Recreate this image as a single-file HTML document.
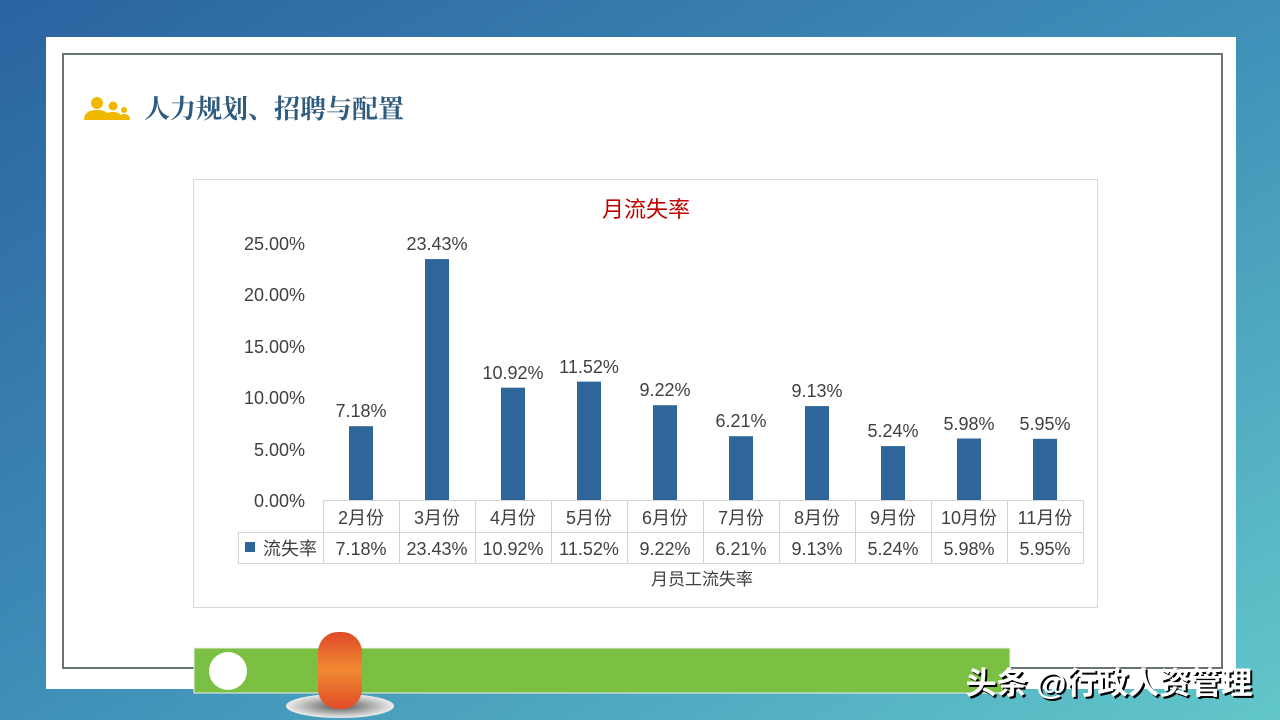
<!DOCTYPE html>
<html><head><meta charset="utf-8"><style>
body{margin:0;width:1280px;height:720px;overflow:hidden;font-family:"Liberation Sans","Noto Sans CJK SC",sans-serif;}
</style></head><body>
<svg width="1280" height="720" viewBox="0 0 1280 720" xmlns="http://www.w3.org/2000/svg" font-family="Liberation Sans, Noto Sans CJK SC, sans-serif">
<defs>
<linearGradient id="bg" x1="0" y1="0" x2="1" y2="1">
<stop offset="0" stop-color="#2b63a0"/><stop offset="0.5" stop-color="#3f8fb8"/><stop offset="1" stop-color="#62c7ca"/></linearGradient>
<linearGradient id="cap" x1="0" y1="0" x2="0" y2="1">
<stop offset="0" stop-color="#e04a2a"/><stop offset="0.5" stop-color="#f08a30"/><stop offset="1" stop-color="#e04a2a"/></linearGradient>
<radialGradient id="sh"><stop offset="0" stop-color="#555"/><stop offset="1" stop-color="#eee"/></radialGradient>
</defs>
<rect width="1280" height="720" fill="url(#bg)"/>
<rect x="46" y="37" width="1190" height="652" fill="#fff"/>
<rect x="63" y="54" width="1159" height="614" fill="none" stroke="#6a7478" stroke-width="2"/>
<g fill="#f2b800">
<circle cx="97" cy="103" r="6"/><path d="M84 120 q0-10 13-10 q13 0 13 10z"/>
<circle cx="113" cy="106" r="4.5"/><path d="M104 120 q0-8 9-8 q9 0 9 8z"/>
<circle cx="124" cy="110" r="3"/><path d="M119 120 q0-6 5-6 q6 0 6 6z"/>
</g>
<text x="144" y="118" font-size="26" fill="#2f5b7e" font-weight="bold" font-family="Noto Serif CJK SC, serif">人力规划、招聘与配置</text>
<rect x="193.5" y="179.5" width="904" height="428" fill="#fff" stroke="#d8d8d8"/>
<text x="646" y="217" font-size="22" fill="#c00000" text-anchor="middle">月流失率</text>
<g font-size="18" fill="#404040" text-anchor="end">
<text x="305" y="250">25.00%</text><text x="305" y="301">20.00%</text><text x="305" y="353">15.00%</text>
<text x="305" y="404">10.00%</text><text x="305" y="456">5.00%</text><text x="305" y="507">0.00%</text>
</g>
<g fill="#2e6699">
<rect x="349" y="426.2" width="24" height="73.8"/>
<rect x="425" y="259.1" width="24" height="240.9"/>
<rect x="501" y="387.7" width="24" height="112.3"/>
<rect x="577" y="381.6" width="24" height="118.4"/>
<rect x="653" y="405.2" width="24" height="94.8"/>
<rect x="729" y="436.2" width="24" height="63.8"/>
<rect x="805" y="406.1" width="24" height="93.9"/>
<rect x="881" y="446.1" width="24" height="53.9"/>
<rect x="957" y="438.5" width="24" height="61.5"/>
<rect x="1033" y="438.8" width="24" height="61.2"/>
</g>
<g font-size="18" fill="#404040" text-anchor="middle">
<text x="361" y="417">7.18%</text><text x="437" y="250">23.43%</text><text x="513" y="379">10.92%</text>
<text x="589" y="373">11.52%</text><text x="665" y="396">9.22%</text><text x="741" y="427">6.21%</text>
<text x="817" y="397">9.13%</text><text x="893" y="437">5.24%</text><text x="969" y="430">5.98%</text><text x="1045" y="430">5.95%</text>
</g>
<g stroke="#d4d4d4" stroke-width="1" fill="none">
<path d="M323 500.5H1083.5M238 532.5H1083.5M238 563.5H1083.5M238.5 532V564"/>
<path d="M323.5 500V564M399.5 500V564M475.5 500V564M551.5 500V564M627.5 500V564M703.5 500V564M779.5 500V564M855.5 500V564M931.5 500V564M1007.5 500V564M1083.5 500V564"/>
</g>
<g font-size="18" fill="#404040" text-anchor="middle">
<text x="361" y="524">2月份</text><text x="437" y="524">3月份</text><text x="513" y="524">4月份</text><text x="589" y="524">5月份</text><text x="665" y="524">6月份</text>
<text x="741" y="524">7月份</text><text x="817" y="524">8月份</text><text x="893" y="524">9月份</text><text x="969" y="524">10月份</text><text x="1045" y="524">11月份</text>
<text x="361" y="555">7.18%</text><text x="437" y="555">23.43%</text><text x="513" y="555">10.92%</text><text x="589" y="555">11.52%</text><text x="665" y="555">9.22%</text>
<text x="741" y="555">6.21%</text><text x="817" y="555">9.13%</text><text x="893" y="555">5.24%</text><text x="969" y="555">5.98%</text><text x="1045" y="555">5.95%</text>
<text x="290" y="555">流失率</text>
<text x="702" y="585" font-size="17">月员工流失率</text>
</g>
<rect x="245" y="542" width="10" height="10" fill="#2e6699"/>
<rect x="194" y="648" width="816" height="45" fill="#7bc043" stroke="#eee"/>
<ellipse cx="228" cy="671" rx="19" ry="19" fill="#fff"/>
<ellipse cx="340" cy="706" rx="54" ry="12" fill="url(#sh)"/>
<rect x="318" y="632" width="44" height="77" rx="20" fill="url(#cap)"/>
<text x="1111" y="696" font-size="31" fill="#000" text-anchor="middle" font-weight="bold">头条 @行政人资管理</text>
<text x="1109" y="694" font-size="31" fill="#fff" text-anchor="middle" font-weight="bold">头条 @行政人资管理</text>
</svg>
</body></html>
